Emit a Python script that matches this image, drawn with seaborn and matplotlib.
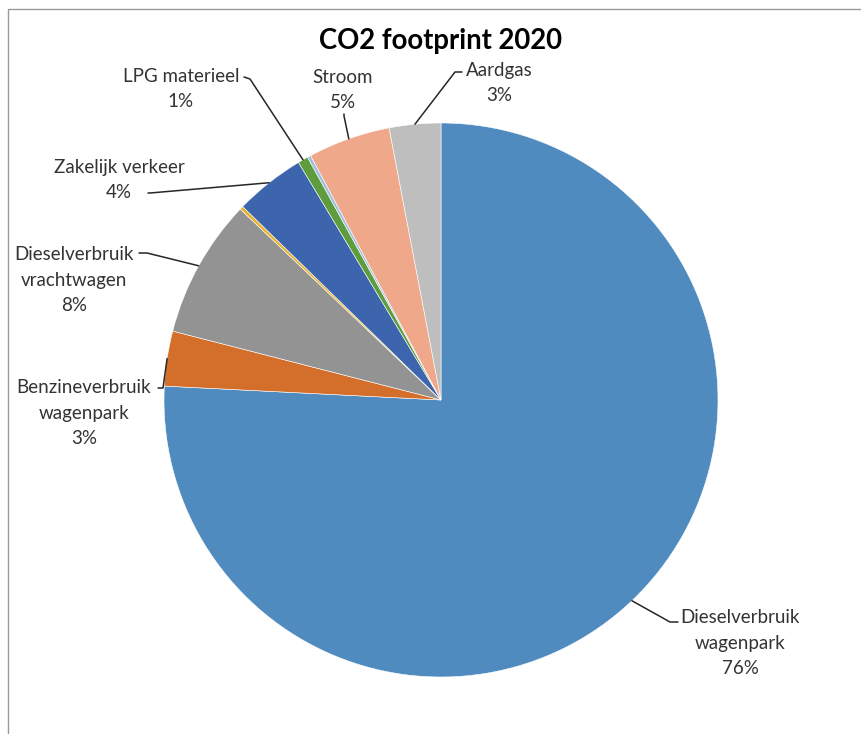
import numpy as np
import matplotlib
matplotlib.use("Agg")
import matplotlib.pyplot as plt
import seaborn as sns
from matplotlib.lines import Line2D

sns.set_style("white")
plt.rcParams['font.family'] = ['Lato', 'DejaVu Sans']

# CO2 footprint 2020, share per source (clockwise from 12 o'clock)
categories = ['Dieselverbruik\nwagenpark', 'Benzineverbruik\nwagenpark', 'Dieselverbruik\nvrachtwagen',
              'Overig', 'Zakelijk verkeer', 'LPG materieel', 'Overig 2', 'Stroom', 'Aardgas']
shares = [75.8, 3.2, 8.1, 0.2, 4.1, 0.6, 0.2, 4.8, 3.0]
pct_labels = ['76%', '3%', '8%', '', '4%', '1%', '', '5%', '3%']
show_label = [True, True, True, False, True, True, False, True, True]
colors = ['#4F8BBE', '#D46E2B', '#939393', '#E8B22A', '#3C65AD', '#5E9C3D', '#9DC0E0', '#F0A88B', '#BEBEBE']

W, H = 862, 734
fig = plt.figure(figsize=(W / 100, H / 100), dpi=100)

def fx(x):
    return x / W

def fy(y):
    return 1 - y / H

# frame of the chart area
fig.add_artist(Line2D([fx(8.5), fx(8.5), fx(W)], [fy(H), fy(8.5), fy(8.5)],
                      transform=fig.transFigure, color='#9a9a9a', lw=1.0))

cx, cy, r = 441, 400, 277
ax = fig.add_axes([fx(cx - r), fy(cy + r), 2 * r / W, 2 * r / H])
wedges, _ = ax.pie(shares, colors=colors, startangle=90, counterclock=False,
                   wedgeprops=dict(edgecolor='white', linewidth=0.4))
ax.set_xlim(-1, 1)
ax.set_ylim(-1, 1)
ax.set_aspect('auto')
ax.axis('off')

fig.text(fx(441), fy(41), 'CO2 footprint 2020', ha='center', va='center',
         fontsize=19.8, fontweight='bold', color='black')

# label layout: text centre, point where leader leaves the text, elbow
layout = {
    0: dict(text=(740, 643), start=(678, 622), elbow=(670, 622)),
    1: dict(text=(84, 413), start=(158, 388), elbow=(163, 388)),
    2: dict(text=(74, 280), start=(139, 253), elbow=(147, 253)),
    4: dict(text=(119, 180), start=(148, 193), elbow=(150, 193)),
    5: dict(text=(181, 89), start=(244, 77), elbow=(250, 79)),
    7: dict(text=(343, 90), start=(344, 114), elbow=(344, 116)),
    8: dict(text=(499, 83), start=(462, 72), elbow=(455, 72)),
}

for i, w in enumerate(wedges):
    if not show_label[i]:
        continue
    mid = np.deg2rad((w.theta1 + w.theta2) / 2)
    ax_pt = ax.transData.transform((np.cos(mid), np.sin(mid)))
    ax_fig = fig.transFigure.inverted().transform(ax_pt)
    lay = layout[i]
    xs = [fx(lay['start'][0]), fx(lay['elbow'][0]), ax_fig[0]]
    ys = [fy(lay['start'][1]), fy(lay['elbow'][1]), ax_fig[1]]
    fig.add_artist(Line2D(xs, ys, transform=fig.transFigure, color='#262626', lw=1.1))
    txt = categories[i] + '\n' + pct_labels[i]
    fig.text(fx(lay['text'][0]), fy(lay['text'][1]), txt, ha='center', va='center',
             fontsize=13.5, color='#333333', linespacing=1.6)

fig.savefig('out.png', dpi=100)
